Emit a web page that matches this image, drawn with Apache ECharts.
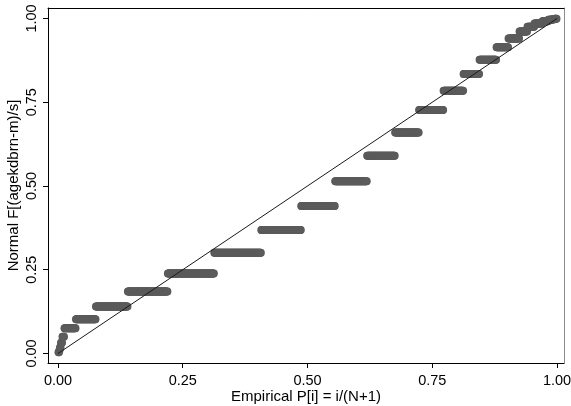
<!DOCTYPE html>
<html>
<head>
<meta charset="utf-8">
<script src="https://cdn.jsdelivr.net/npm/echarts@6/dist/echarts.min.js"></script>
<style>
  html, body { margin: 0; padding: 0; background: #fff; }
  #chart { width: 571px; height: 406px; }
</style>
</head>
<body>
<div id="chart"></div>
<script>
// Normal probability plot of agekdbrn: each distinct age gives one level of
// the fitted normal CDF, shared by all observations with that age.
const levelF = [0.004, 0.010, 0.018, 0.032, 0.050, 0.075, 0.102, 0.140, 0.185, 0.239,
                0.301, 0.369, 0.440, 0.514, 0.590, 0.660, 0.727, 0.784, 0.834, 0.877,
                0.914, 0.940, 0.961, 0.975, 0.985, 0.992, 0.996, 0.998, 0.999];
const levelCount = [2, 1, 2, 3, 4, 23, 40, 64, 80, 93,
                    94, 80, 68, 64, 56, 48, 49, 40, 32, 34,
                    24, 22, 16, 14, 16, 12, 8, 5, 4];
const tickValues = [0, 0.25, 0.5, 0.75, 1];
const xTitle = 'Empirical P[i] = i/(N+1)';
const yTitle = 'Normal F[(agekdbrn-m)/s]';

// Sorted observations: the i-th one sits at P[i] = i/(N+1).
const N = levelCount.reduce((a, b) => a + b, 0);
const points = [];
let rank = 0;
levelF.forEach((f, k) => {
  for (let j = 0; j < levelCount[k]; j++) {
    rank++;
    points.push([rank / (N + 1), f]);
  }
});

const FONT = '"Liberation Sans", Arial, Helvetica, sans-serif';
const fmt = v => v.toFixed(2);

const chart = echarts.init(document.getElementById('chart'), null, { renderer: 'canvas' });
chart.setOption({
  animation: false,
  backgroundColor: '#fff',
  grid: { left: 48, right: 7, top: 8, bottom: 43, containLabel: false, outerBoundsMode: 'none' },
  xAxis: [{
    type: 'value', position: 'bottom',
    min: -0.02004, max: 1.01403,
    axisLine: { show: true, onZero: false, lineStyle: { color: '#000', width: 1 } },
    axisTick: { show: true, customValues: tickValues, length: 5, lineStyle: { color: '#000', width: 1 } },
    axisLabel: { customValues: tickValues, formatter: fmt, fontSize: 14.5, fontFamily: FONT, color: '#000', margin: 10 },
    splitLine: { show: false },
    name: xTitle, nameLocation: 'middle', nameGap: 26, nameMoveOverlap: false,
    nameTextStyle: { fontSize: 15, fontFamily: FONT, color: '#000' }
  }, {
    type: 'value', position: 'top',
    min: -0.02004, max: 1.01403,
    axisLine: { show: true, onZero: false, lineStyle: { color: '#000', width: 1 } },
    axisTick: { show: false }, axisLabel: { show: false }, splitLine: { show: false }
  }],
  yAxis: [{
    type: 'value', position: 'left',
    min: -0.02836, max: 1.0313,
    axisLine: { show: true, onZero: false, lineStyle: { color: '#000', width: 1 } },
    axisTick: { show: true, customValues: tickValues, length: 5, lineStyle: { color: '#000', width: 1 } },
    axisLabel: { customValues: tickValues, formatter: fmt, fontSize: 14.5, fontFamily: FONT, color: '#000', margin: 9, rotate: 90 },
    splitLine: { show: false },
    name: yTitle, nameLocation: 'middle', nameGap: 27, nameRotate: 90, nameMoveOverlap: false,
    nameTextStyle: { fontSize: 15, fontFamily: FONT, color: '#000' }
  }, {
    type: 'value', position: 'right',
    min: -0.02836, max: 1.0313,
    axisLine: { show: true, onZero: false, lineStyle: { color: '#8c8c8c', width: 1 } },
    axisTick: { show: false }, axisLabel: { show: false }, splitLine: { show: false }
  }],
  series: [{
    type: 'scatter',
    xAxisIndex: 0, yAxisIndex: 0,
    data: points,
    symbol: 'circle', symbolSize: 8,
    itemStyle: { color: '#5b5b5b', opacity: 1 },
    z: 2
  }, {
    type: 'line',
    xAxisIndex: 0, yAxisIndex: 0,
    data: [[0, 0], [1, 1]],
    symbol: 'none',
    lineStyle: { color: '#1a1a1a', width: 1 },
    z: 3
  }]
});
</script>
</body>
</html>
